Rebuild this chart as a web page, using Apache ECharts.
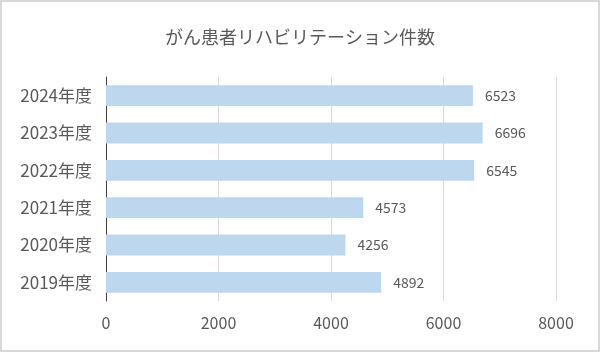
<!DOCTYPE html>
<html>
<head>
<meta charset="utf-8">
<script src="https://cdn.jsdelivr.net/npm/echarts@6/dist/echarts.min.js"></script>
<style>
  html, body { margin: 0; padding: 0; background: #fff; }
  #chart { width: 600px; height: 352px; box-sizing: border-box; border: 2px solid #d9d9d9; }
</style>
</head>
<body>
<div id="chart"></div>
<script>
// data
const categories = ['2019年度', '2020年度', '2021年度', '2022年度', '2023年度', '2024年度'];
const counts = [4892, 4256, 4573, 6545, 6696, 6523];
const titleText = 'がん患者リハビリテーション件数';

const font = '"Noto Sans CJK JP", "Noto Sans", sans-serif';
const chart = echarts.init(document.getElementById('chart'));
chart.setOption({
  animation: false,
  title: {
    text: titleText,
    left: 'center',
    top: 21,
    textStyle: { fontFamily: font, fontSize: 18, fontWeight: 'normal', color: '#595959' }
  },
  grid: { left: 104, right: 42, top: 75, bottom: 49 },
  xAxis: {
    type: 'value',
    min: 0,
    max: 8000,
    interval: 2000,
    axisLine: { show: false },
    axisTick: { show: false },
    splitLine: { lineStyle: { color: '#d9d9d9', width: 1 } },
    axisLabel: { fontFamily: font, fontSize: 16, color: '#595959', margin: 14, formatter: v => String(v) }
  },
  yAxis: {
    type: 'category',
    data: categories,
    axisLine: { lineStyle: { color: '#404040', width: 1 } },
    axisTick: { show: false },
    axisLabel: { fontFamily: font, fontSize: 17, color: '#595959', margin: 14 }
  },
  series: [{
    type: 'bar',
    data: counts,
    barCategoryGap: '44%',
    itemStyle: { color: '#bdd7ee' },
    label: {
      show: true,
      position: 'right',
      distance: 12,
      fontFamily: font,
      fontSize: 14,
      color: '#595959'
    }
  }]
});
</script>
</body>
</html>
